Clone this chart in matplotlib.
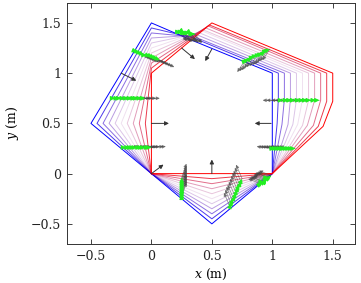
import matplotlib
matplotlib.use('Agg')
import matplotlib.pyplot as plt
import numpy as np

plt.rcParams['font.family'] = 'DejaVu Serif'
plt.rcParams['mathtext.fontset'] = 'dejavuserif'

# Vertex tracks of the polygon, one value per frame (blue frame -> red frame)
v0_x = [0.0] * 11
v0_y = [0.0] * 11
v1_x = [0.5] * 11
v1_y = [-0.5, -0.45, -0.4, -0.35, -0.3, -0.25, -0.2, -0.15, -0.1, -0.05, 0.0]
v2_x = [1.0] * 11
v2_y = [0.0] * 11
v3_x = [1.0, 1.04, 1.08, 1.13, 1.17, 1.21, 1.25, 1.29, 1.34, 1.38, 1.42]
v3_y = [0.5, 0.5, 0.49, 0.49, 0.49, 0.49, 0.48, 0.48, 0.48, 0.47, 0.47]
v4_x = [1.0, 1.05, 1.1, 1.15, 1.2, 1.25, 1.3, 1.35, 1.4, 1.45, 1.5]
v4_y = [0.75, 0.75, 0.74, 0.74, 0.74, 0.74, 0.73, 0.73, 0.73, 0.72, 0.72]
v5_x = [1.0, 1.05, 1.1, 1.15, 1.2, 1.25, 1.3, 1.35, 1.4, 1.45, 1.5]
v5_y = [1.0] * 11
v6_x = [0.33, 0.35, 0.36, 0.38, 0.40, 0.42, 0.43, 0.45, 0.47, 0.48, 0.5]
v6_y = [1.33, 1.35, 1.36, 1.38, 1.40, 1.42, 1.43, 1.45, 1.47, 1.48, 1.5]
v7_x = [0.0] * 11
v7_y = [1.5, 1.45, 1.4, 1.35, 1.3, 1.25, 1.2, 1.15, 1.1, 1.05, 1.0]
v8_x = [-0.5, -0.45, -0.4, -0.35, -0.3, -0.25, -0.2, -0.15, -0.1, -0.05, 0.0]
v8_y = [0.5] * 11

# tracked boundary points (green arrows) and their velocity arrows (gray)
g1_x = [-0.33, -0.30, -0.27, -0.25, -0.22, -0.19, -0.16, -0.13, -0.11, -0.08, -0.05]
g1_y = [0.75] * 11
g2_x = [-0.23, -0.21, -0.18, -0.16, -0.14, -0.12, -0.09, -0.07, -0.05, -0.02, 0.0]
g2_y = [0.26] * 11
g3_x = [-0.14, -0.12, -0.10, -0.08, -0.06, -0.04, -0.01, 0.01, 0.03, 0.05, 0.07]
g3_y = [1.22, 1.21, 1.20, 1.19, 1.18, 1.18, 1.17, 1.16, 1.15, 1.14, 1.13]
g4_x = [0.23, 0.24, 0.26, 0.27, 0.28, 0.30, 0.31, 0.32, 0.33, 0.35, 0.36]
g4_y = [1.41, 1.41, 1.41, 1.40, 1.40, 1.40, 1.40, 1.40, 1.39, 1.39, 1.39]
g5_x = [0.77, 0.79, 0.81, 0.83, 0.85, 0.875, 0.90, 0.92, 0.94, 0.96, 0.98]
g5_y = [1.12, 1.13, 1.14, 1.16, 1.17, 1.18, 1.19, 1.20, 1.22, 1.23, 1.24]
g6_x = [1.06, 1.09, 1.13, 1.16, 1.19, 1.23, 1.26, 1.29, 1.32, 1.36, 1.39]
g6_y = [0.73] * 11
g7_x = [1.0, 1.02, 1.04, 1.06, 1.08, 1.10, 1.11, 1.13, 1.15, 1.17, 1.19]
g7_y = [0.25] * 11
g8_x = [0.90, 0.91, 0.92, 0.93, 0.94, 0.945, 0.95, 0.96, 0.97, 0.98, 0.99]
g8_y = [-0.10, -0.09, -0.08, -0.08, -0.07, -0.06, -0.05, -0.04, -0.04, -0.03, -0.02]
g9_x = [0.65, 0.66, 0.67, 0.68, 0.69, 0.70, 0.71, 0.72, 0.73, 0.74, 0.75]
g9_y = [-0.33, -0.30, -0.27, -0.25, -0.22, -0.19, -0.16, -0.13, -0.11, -0.08, -0.05]
g10_x = [0.25] * 11
g10_y = [-0.23, -0.21, -0.19, -0.17, -0.15, -0.14, -0.12, -0.10, -0.08, -0.06, -0.04]

gray_u = [0.12, 0.12, 0.12, 0.06, -0.06, -0.14, -0.13, -0.10, -0.05, 0.04]
gray_v = [0.0, 0.01, -0.07, -0.09, -0.11, 0.0, 0.02, 0.05, 0.14, 0.14]

# single velocity arrows
black_x = [0.0, 0.99, 0.5, 0.0, -0.25, 0.5, 0.25]
black_y = [0.5, 0.5, 0.0, 0.0, 1.0, 1.24, 1.25]
black_u = [0.145, -0.135, 0.0, 0.1, 0.125, -0.055, 0.11]
black_v = [0.0, 0.0, 0.14, 0.09, -0.075, -0.12, -0.11]

verts_x = [v0_x, v1_x, v2_x, v3_x, v4_x, v5_x, v6_x, v7_x, v8_x]
verts_y = [v0_y, v1_y, v2_y, v3_y, v4_y, v5_y, v6_y, v7_y, v8_y]
tracks = [(g1_x, g1_y), (g2_x, g2_y), (g3_x, g3_y), (g4_x, g4_y), (g5_x, g5_y),
          (g6_x, g6_y), (g7_x, g7_y), (g8_x, g8_y), (g9_x, g9_y), (g10_x, g10_y)]

fig = plt.figure(figsize=(3.61, 2.83), dpi=100)
ax = fig.add_axes([0.185, 0.138, 0.797, 0.852])

n = len(v0_x)
for k in range(n):
    t = k / (n - 1)
    px = [vx[k] for vx in verts_x] + [verts_x[0][k]]
    py = [vy[k] for vy in verts_y] + [verts_y[0][k]]
    a = 0.12 + 0.88 * abs(2 * t - 1) ** 1.3
    ax.plot(px, py, color=(t, 0, 1 - t), alpha=a, lw=0.7, zorder=2)

def arrow(x0, y0, x1, y1, color, lw, ms, alpha=1.0, z=3):
    ax.annotate('', xy=(x1, y1), xytext=(x0, y0),
                arrowprops=dict(arrowstyle='-|>', color=color, lw=lw,
                                mutation_scale=ms, alpha=alpha,
                                shrinkA=0, shrinkB=0), zorder=z)

for i, (tx, ty) in enumerate(tracks):
    for k in range(n):
        arrow(tx[k], ty[k], tx[k] + gray_u[i], ty[k] + gray_v[i],
              '#444444', 0.6, 5, alpha=0.55, z=3)
    for k in range(n - 1):
        arrow(tx[k], ty[k], tx[k + 1], ty[k + 1], '#22ee22', 0.9, 6, z=4)

for i in range(len(black_x)):
    arrow(black_x[i], black_y[i], black_x[i] + black_u[i], black_y[i] + black_v[i],
          '#333333', 0.7, 6, z=5)

ax.set_xlim(-0.7, 1.68)
ax.set_ylim(-0.7, 1.7)
ax.set_xticks([-0.5, 0, 0.5, 1, 1.5])
ax.set_xticklabels(['−0.5', '0', '0.5', '1', '1.5'])
ax.set_yticks([-0.5, 0, 0.5, 1, 1.5])
ax.set_yticklabels(['−0.5', '0', '0.5', '1', '1.5'])
ax.tick_params(direction='in', length=3.5, width=0.6, top=True, right=True,
               labelsize=9, colors='#222222', pad=4)
for s in ax.spines.values():
    s.set_linewidth(0.7)
    s.set_color('#333333')
ax.set_xlabel('$x$ (m)', fontsize=9, labelpad=3)
ax.set_ylabel('$y$ (m)', fontsize=9, labelpad=7)

fig.savefig('out.png', dpi=100)
